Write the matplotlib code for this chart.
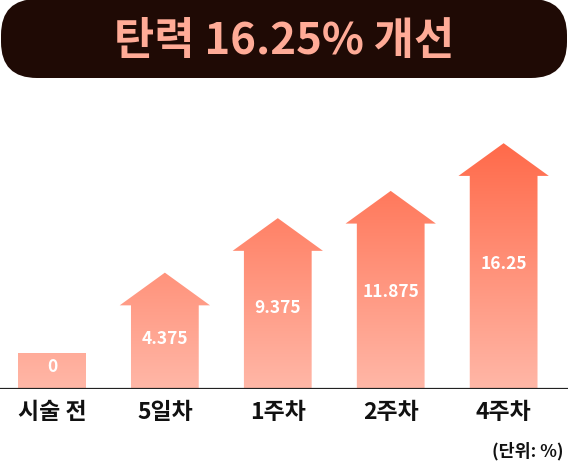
import matplotlib
matplotlib.use("Agg")
import matplotlib.pyplot as plt
import numpy as np
from matplotlib.patches import Polygon, FancyBboxPatch
from matplotlib.colors import LinearSegmentedColormap

plt.rcParams['font.family'] = ['Noto Sans CJK KR', 'DejaVu Sans']

# data
categories = ['시술 전', '5일차', '1주차', '2주차', '4주차']
values = [0, 4.375, 9.375, 11.875, 16.25]
value_labels = ['0', '4.375', '9.375', '11.875', '16.25']
title = '탄력 16.25% 개선'
unit_note = '(단위: %)'

# shape settings (data units)
base = -3.3          # bars start a bit below zero so the 0 bar is visible
shaft_w = 0.60
head_w = 0.80
head_h = 3.0

fig = plt.figure(figsize=(5.68, 4.64), dpi=100)
ax = fig.add_axes([0, 74 / 464, 1, 290 / 464])
ax.set_xlim(-0.46, 4.57)
ax.set_ylim(base, base + 290 / 10.9)
ax.axis('off')

cmap = LinearSegmentedColormap.from_list('sal', ['#ffb7a7', '#ff6a4a'])
grad = np.linspace(0, 1, 256).reshape(-1, 1)
top = max(values) + head_h

for i, v in enumerate(values):
    x0, x1 = i - shaft_w / 2, i + shaft_w / 2
    if v > 0:
        pts = [(x0, base), (x1, base), (x1, v), (i + head_w / 2, v),
               (i, v + head_h), (i - head_w / 2, v), (x0, v)]
    else:
        pts = [(x0, base), (x1, base), (x1, v), (x0, v)]
    poly = Polygon(pts, closed=True, facecolor='none', edgecolor='none')
    ax.add_patch(poly)
    im = ax.imshow(grad, cmap=cmap, origin='lower', aspect='auto',
                   extent=[-1, 5, base, top], interpolation='bicubic')
    im.set_clip_path(poly)
    ax.text(i, 0.58 * v - 1.2, value_labels[i], ha='center', va='center',
            color='white', fontsize=12.5, fontweight='bold')
    ax.annotate(categories[i], xy=(i, 0), xycoords=('data', 'axes fraction'),
                xytext=(0, -16), textcoords='offset points',
                ha='center', va='center', fontsize=16.5, fontweight='bold',
                color='#111111')

ax.axhline(base, color='#222222', lw=1.6, zorder=5)
ax.set_xlim(-0.46, 4.57)

# overlay in pixel coordinates for title box and note
ov = fig.add_axes([0, 0, 1, 1])
ov.set_xlim(0, 568)
ov.set_ylim(464, 0)
ov.axis('off')
box = FancyBboxPatch((1, 0), 566, 79, boxstyle='round,pad=0,rounding_size=36',
                     facecolor='#1f0a05', edgecolor='none')
ov.add_patch(box)
ov.text(284, 41, title, ha='center', va='center', color='#ffab97',
        fontsize=31.5, fontweight='bold')
ov.text(564, 451, unit_note, ha='right', va='center', color='#111111',
        fontsize=12.5, fontweight='bold')

fig.savefig('out.png', dpi=100)
